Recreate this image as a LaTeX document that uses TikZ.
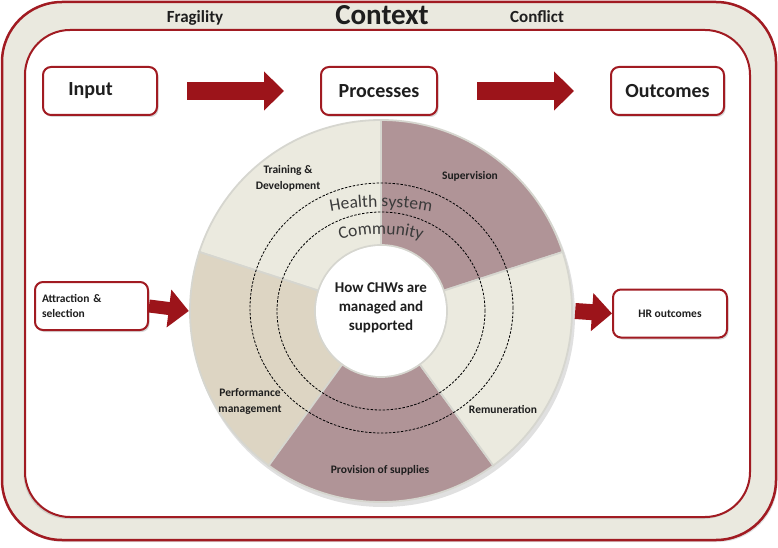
\documentclass[tikz,border=0pt]{standalone}
\usepackage{fontspec}
\setmainfont{Carlito}
\usetikzlibrary{arrows.meta,shadows,decorations.text}
\definecolor{cred}{HTML}{A11B22}
\definecolor{arrowred}{HTML}{9C141A}
\definecolor{ctxbg}{HTML}{EAE9DF}
\definecolor{mauve}{HTML}{B09497}
\definecolor{lightseg}{HTML}{EBEADF}
\definecolor{tanseg}{HTML}{DDD5C3}
\definecolor{segline}{HTML}{D6D6CF}
\definecolor{txt}{HTML}{1E1E1E}
\definecolor{ringtxt}{HTML}{3A3A3A}
\newcommand{\ringseg}[3]{%
  \filldraw[fill=#3, draw=segline, line width=1.8pt]
    (#1:191pt) arc[start angle=#1, end angle=#2, radius=191pt]
    -- (#2:66pt) arc[start angle=#2, end angle=#1, radius=66pt] -- cycle;}
\begin{document}
\begin{tikzpicture}[x=1pt,y=1pt,
  box/.style={draw=cred, line width=2pt, rounded corners=8pt, fill=white,
    drop shadow={opacity=0.3, shadow xshift=1.5pt, shadow yshift=-2pt},
    font=\fontsize{20}{20}\selectfont\bfseries, text=txt, inner sep=0pt},
  bigbox/.style={box, minimum height=48pt},
  smallbox/.style={box, minimum height=48pt, minimum width=113pt,
    font=\fontsize{11.5}{15.5}\selectfont\bfseries},
  fatarrow/.style={draw=arrowred, line width=18pt,
    -{Triangle[length=20pt,width=38pt]}},
  sidearrow/.style={draw=arrowred, line width=#1,
    -{Triangle[length=20pt,width=37pt]}},
  seglabel/.style={font=\fontsize{11.5}{16}\selectfont\bfseries, text=txt, align=center},
  toplabel/.style={font=\fontsize{17}{17}\selectfont\bfseries, text=txt, anchor=base},
]
\useasboundingbox (0,0) rectangle (778,547);
% context frames
\draw[cred, line width=2.5pt, fill=ctxbg, rounded corners=60pt,
  drop shadow={opacity=0.25, shadow xshift=1.5pt, shadow yshift=-2pt}] (2,7) rectangle (776,545);
\draw[cred, line width=2pt, fill=white, rounded corners=45pt,
  drop shadow={opacity=0.25, shadow xshift=-1.5pt, shadow yshift=-2pt}] (25,30) rectangle (750,517);
\node[toplabel] (frag) at (195,524) {Fragility};
\node[toplabel, font=\fontsize{29}{29}\selectfont\bfseries] (ctx) at (382,522) {Context};
\node[toplabel] (confl) at (537,524) {Conflict};
% top row
\node[bigbox, minimum width=114pt] (input) at (100,456) {Input\kern19pt\relax};
\node[bigbox, minimum width=116pt] (proc) at (379,456) {Processes};
\node[bigbox, minimum width=113pt] (outc) at (667.5,456) {Outcomes};
\draw[fatarrow] ([xshift=29pt]input.east) -- ([xshift=-36pt]proc.west);
\draw[fatarrow] ([xshift=39pt]proc.east) -- ([xshift=-36pt]outc.west);
% ring
\node[circle, minimum size=382pt, inner sep=0pt] (ring) at (381,236) {};
\begin{scope}[shift={(381,236)}]
  \fill[black, opacity=0.12] (2,-4) circle[radius=192pt];
  \ringseg{18}{90}{mauve}
  \ringseg{90}{162}{lightseg}
  \ringseg{162}{234}{tanseg}
  \ringseg{234}{306}{mauve}
  \ringseg{306}{378}{lightseg}
  \fill[white] (0,0) circle[radius=65pt];
\end{scope}
\draw[dash pattern=on 2.5pt off 1.5pt, line width=0.8pt] (381.5,239) ellipse[x radius=131.5pt, y radius=125pt];
\draw[dash pattern=on 2.5pt off 1.5pt, line width=0.8pt] (381,236) ellipse[x radius=104pt, y radius=99pt];
\path[decorate, decoration={text along path, text align=center,
  text={|\fontsize{17.5}{17.5}\selectfont\color{ringtxt}|Health system}}]
  (381,80) ++(105:260pt) arc[start angle=105, end angle=75, radius=260pt];
\path[decorate, decoration={text along path, text align=center,
  text={|\fontsize{17.5}{17.5}\selectfont\color{ringtxt}|Community}}]
  (381,173) ++(120:140pt) arc[start angle=120, end angle=60, radius=140pt];
\node[align=center, font=\fontsize{15}{19}\selectfont\bfseries, text=txt] (hub) at (381,239)
  {How CHWs are\\managed and\\supported};
\node[seglabel] (train) at (288,369) {Training \&\\Development};
\node[seglabel] (sup) at (470,371) {Supervision};
\node[seglabel] (perf) at (250,146) {Performance\\management};
\node[seglabel] (rem) at (503,138) {Remuneration};
\node[seglabel] (prov) at (380,77) {Provision of supplies};
% side boxes
\node[smallbox, align=left, text width=99pt] (attr) at (91.5,241) {Attraction \&\\selection};
\node[smallbox, minimum width=114pt] (hr) at (670,233.5) {HR outcomes};
\draw[sidearrow=13pt] (attr.east) -- ([xshift=-1pt]ring.west);
\draw[sidearrow=16pt] ([xshift=3pt]ring.east) -- (hr.west);
\end{tikzpicture}
\end{document}
